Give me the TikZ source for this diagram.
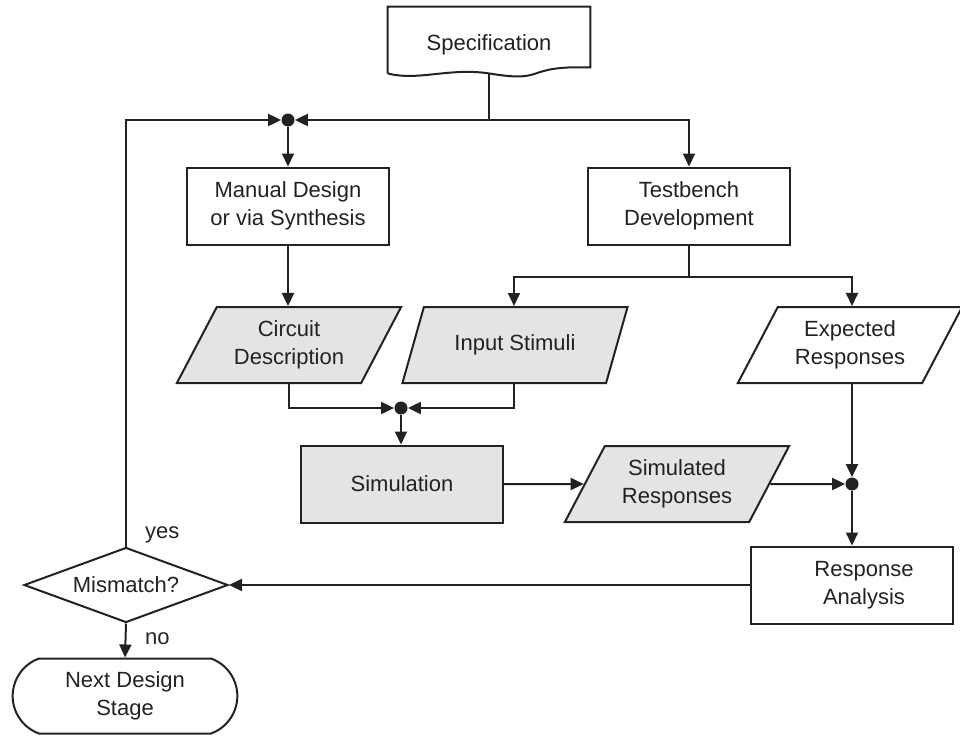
\documentclass[tikz,border=0pt]{standalone}
\usepackage{fontspec}
\setmainfont{Liberation Sans}
\usetikzlibrary{arrows.meta,positioning,shapes.geometric,shapes.misc}
\definecolor{ink}{HTML}{222222}
\definecolor{shade}{HTML}{E4E4E4}
\tikzset{
  stepbox/.style={draw=ink, line width=1pt, minimum width=101pt, minimum height=38.5pt, align=center},
  databox/.style={draw=ink, line width=1pt, trapezium, trapezium left angle=59, trapezium right angle=121,
    trapezium stretches=true, minimum width=113pt, minimum height=38pt, inner sep=1pt, align=center},
  shaded/.style={fill=shade},
  junction/.style={circle, fill=ink, inner sep=0pt, minimum size=6.5pt},
  wire/.style={draw=ink, line width=1pt},
  flow/.style={wire, -{Triangle[length=6.5pt,width=6pt]}},
}

\begin{document}
\begin{tikzpicture}[x=0.5pt, y=-0.5pt,
    every node/.style={font=\fontsize{11}{14}\selectfont, text=ink}]
\useasboundingbox (0,0) rectangle (960,735);

% nodes
\node (spec) [minimum width=101pt, minimum height=33pt, text height=13pt, text depth=2.5pt] at (489,40) {Specification};
\draw[wire] (spec.south west) -- (spec.north west) -- (spec.north east) -- ([yshift=3pt]spec.south east)
  .. controls +(-70,-2) and +(60,10) .. (spec.south) .. controls +(-40,-6) and +(30,8) .. (spec.south west);

\node (manual) [stepbox] at (288,206) {Manual Design\\or via Synthesis};
\node (tb) [stepbox] at (689,206) {Testbench\\Development};

\node (circ) [databox, shaded] at (289,345) {Circuit\\Description};
\node (stim) [databox, shaded] at (515,345) {Input Stimuli};
\node (exp) [databox] at (850,345) {Expected\\Responses};

\node (sim) [stepbox, shaded] at (402,484) {Simulation};
\node (simr) [databox, shaded] at (677,484) {Simulated\\Responses};
\node (resp) [stepbox] at (852,585) {\hspace*{12pt}Response\\\hspace*{12pt}Analysis};

\node (mism) [diamond, draw=ink, line width=1pt, aspect=2.72, inner sep=0pt,
  minimum width=102pt, minimum height=37.5pt] at (126,585) {Mismatch?};
\node (next) [rounded rectangle, rounded rectangle arc length=140, draw=ink, line width=1pt,
  minimum width=119pt, minimum height=37.5pt, align=center] at (125,696) {Next Design\\Stage};

\node (j1) [junction] at (288,120) {};
\node (j2) [junction] at (401,408) {};
\node (j3) [junction] at (852,484) {};

\coordinate (split) at (spec.south |- j1);
\coordinate (tbsplit) at ([yshift=-15.5pt]tb.south);

% connectors
\draw[wire] (spec.south) -- (split);
\draw[flow] (split) -| (tb.north);
\draw[flow] (split) -- (j1);
\draw[flow] (mism.north) |- (j1);
\draw[flow] (j1) -- (manual.north);
\draw[flow] (manual.south) -- (manual.south |- circ.north);
\draw[wire] (tb.south) -- (tbsplit);
\draw[flow] (tbsplit) -| ([xshift=-0.5pt]stim.north);
\draw[flow] (tbsplit) -| (j3 |- exp.north);
\draw[flow] (circ.south) |- (j2);
\draw[flow] ([xshift=-0.5pt]stim.south) |- (j2);
\draw[flow] (j2) -- (j2 |- sim.north);
\draw[flow] (sim.east) -- (simr.west);
\draw[flow] (simr.east) -- (j3);
\draw[flow] (j3 |- exp.south) -- (j3);
\draw[flow] (j3) -- (resp.north);
\draw[flow] (resp.west) -- (mism.east);
\draw[flow] (mism.south) -- (next.north);

\node [above right=-2pt and 6pt of mism.north] {yes};
\node [below right=1pt and 6pt of mism.south] {no};
\end{tikzpicture}
\end{document}
